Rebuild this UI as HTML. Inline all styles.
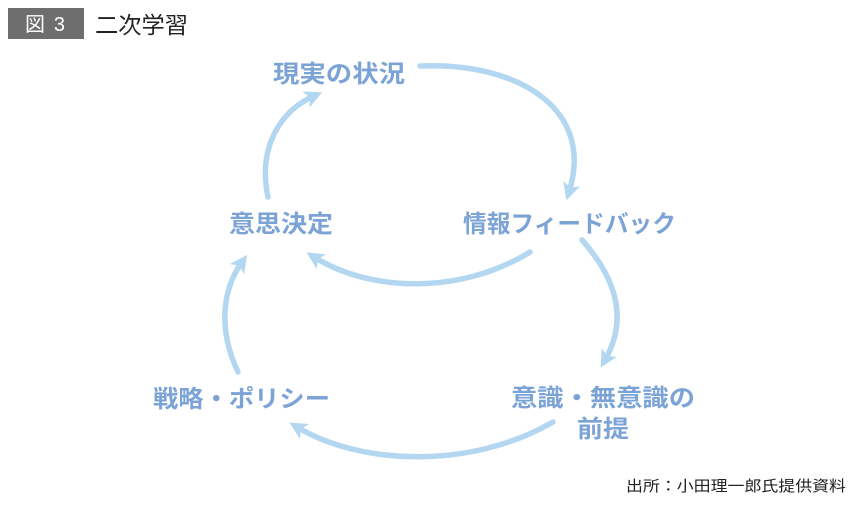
<!DOCTYPE html>
<html><head><meta charset="utf-8"><style>
html,body{margin:0;padding:0;background:#fff;}
body{width:858px;height:506px;overflow:hidden;position:relative;font-family:"Liberation Sans","Noto Sans CJK JP",sans-serif;}
</style></head><body>
<svg width="858" height="506" viewBox="0 0 858 506" xmlns="http://www.w3.org/2000/svg" style="position:absolute;left:0;top:0">
<defs>
<marker id="a" viewBox="0 0 10 10" refX="5" refY="5" markerWidth="3.2" markerHeight="3.2" orient="auto" markerUnits="strokeWidth">
<polygon points="0,0 10,5 0,10 2.5,5" fill="#b3d7f0"/>
</marker>
</defs>
<rect x="8" y="8" width="76" height="31" fill="#6e6e6e"/>
<text x="25" y="31" fill="#fff" font-size="20" textLength="40" lengthAdjust="spacing" font-family="Liberation Sans,Noto Sans CJK JP,sans-serif">図 3</text>
<text x="95" y="33" fill="#222" font-size="23" textLength="93" lengthAdjust="spacingAndGlyphs" font-family="Liberation Sans,Noto Sans CJK JP,sans-serif">二次学習</text>
<g fill="none" stroke="#b3d7f0" stroke-width="5.5" stroke-linecap="round" marker-end="url(#a)">
<path d="M420,66 C520,62 595,110 569,192"/>
<path d="M530,252 C460,295 370,292 314,257"/>
<path d="M268,197 C258,150 278,112 314,96"/>
<path d="M582,240 C622,285 625,325 605,360"/>
<path d="M553,422 C470,470 360,465 297,427"/>
<path d="M238,372 C218,330 222,290 242,262"/>
</g>
<g fill="#7ba3d6" font-size="24" font-weight="bold" font-family="Liberation Sans,Noto Sans CJK JP,sans-serif" lengthAdjust="spacingAndGlyphs">
<text x="273" y="82" textLength="132" lengthAdjust="spacingAndGlyphs">現実の状況</text>
<text x="229" y="232" textLength="104" lengthAdjust="spacingAndGlyphs">意思決定</text>
<text x="463" y="232" textLength="213" lengthAdjust="spacingAndGlyphs">情報フィードバック</text>
<text x="153" y="407" textLength="177" lengthAdjust="spacingAndGlyphs">戦略・ポリシー</text>
<text x="511" y="406" textLength="184" lengthAdjust="spacingAndGlyphs">意識・無意識の</text>
<text x="577" y="437" textLength="52" lengthAdjust="spacingAndGlyphs">前提</text>
</g>
<text x="626" y="491" fill="#222" font-size="15" textLength="220" lengthAdjust="spacingAndGlyphs" font-family="Liberation Sans,Noto Sans CJK JP,sans-serif">出所：小田理一郎氏提供資料</text>
</svg>
</body></html>
